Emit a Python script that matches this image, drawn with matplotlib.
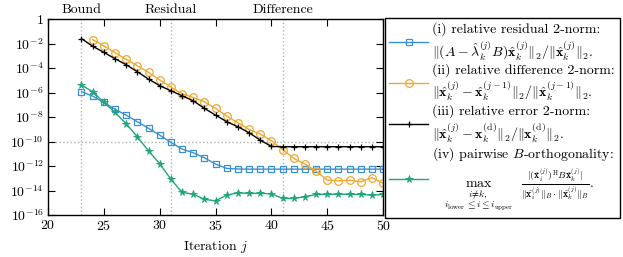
import matplotlib
matplotlib.use("Agg")
import matplotlib.pyplot as plt
import numpy as np
from matplotlib.ticker import FixedLocator, FuncFormatter

plt.rcParams['font.family'] = ['cmr10', 'DejaVu Serif']
plt.rcParams['mathtext.fontset'] = 'cm'
plt.rcParams['axes.formatter.use_mathtext'] = True
plt.rcParams['axes.unicode_minus'] = False

# ---- data (log10 values) ----
it_res = list(range(23, 51))
log_res = [-5.93, -6.29, -6.80, -7.37, -7.84, -8.38, -8.92, -9.47, -10.07, -10.61,
           -10.91, -11.32, -11.84, -12.19, -12.24, -12.25, -12.25, -12.25, -12.25, -12.25,
           -12.25, -12.25, -12.25, -12.25, -12.25, -12.25, -12.25, -12.25]

it_diff = list(range(24, 51))
log_diff = [-1.68, -2.20, -2.75, -3.29, -3.81, -4.35, -4.98, -5.55, -6.10, -6.40,
            -6.75, -7.29, -7.92, -8.46, -9.01, -9.39, -9.93, -10.65, -11.37, -11.84,
            -12.41, -13.14, -13.20, -13.16, -13.28, -12.95, -13.40]

it_err = list(range(23, 51))
log_err = [-1.60, -2.22, -2.72, -3.24, -3.73, -4.30, -4.90, -5.44, -5.85, -6.26,
           -6.67, -7.29, -7.84, -8.38, -8.79, -9.28, -9.88, -10.40, -10.42, -10.42,
           -10.42, -10.42, -10.42, -10.42, -10.42, -10.42, -10.42, -10.42]

it_orth = list(range(23, 51))
log_orth = [-5.39, -5.93, -6.80, -7.62, -8.55, -9.61, -10.76, -11.81, -13.07, -14.15,
            -14.29, -14.72, -14.83, -14.37, -14.18, -14.23, -14.23, -14.26, -14.64, -14.64,
            -14.50, -14.31, -14.31, -14.29, -14.31, -14.31, -14.37, -14.31]

marks_x = [23, 31, 41]
marks_lbl = ['Bound', 'Residual', 'Difference']
xticks = [20, 25, 30, 35, 40, 45, 50]
yexp = [0, -2, -4, -6, -8, -10, -12, -14, -16]

labels = [
    "(i) relative residual 2-norm:\n"
    r"$\|(A-\hat{\lambda}_k^{(j)}B)\hat{\mathbf{x}}_k^{(j)}\|_2/\|\hat{\mathbf{x}}_k^{(j)}\|_2.$",
    "(ii) relative difference 2-norm:\n"
    r"$\|\hat{\mathbf{x}}_k^{(j)}-\hat{\mathbf{x}}_k^{(j-1)}\|_2/\|\hat{\mathbf{x}}_k^{(j-1)}\|_2.$",
    "(iii) relative error 2-norm:\n"
    r"$\|\hat{\mathbf{x}}_k^{(j)}-\mathbf{x}_k^{(\mathrm{d})}\|_2/\|\mathbf{x}_k^{(\mathrm{d})}\|_2.$",
    "(iv) pairwise $B$-orthogonality:\n"
    r"$\quad\max_{\genfrac{}{}{0}{0}{i\neq k,}{i_{\mathrm{lower}}\leq i\leq i_{\mathrm{upper}}}}\ \ "
    r"\frac{|(\hat{\mathbf{x}}_i^{(j)})^{\mathrm{H}}B\hat{\mathbf{x}}_k^{(j)}|}"
    r"{\|\hat{\mathbf{x}}_i^{(j)}\|_B\cdot\|\hat{\mathbf{x}}_k^{(j)}\|_B}.$",
]

c_blue = '#3a8fd0'
c_orange = '#f0a830'
c_green = '#1fa57a'

fig = plt.figure(figsize=(6.23, 2.57), dpi=100)
ax = fig.add_axes([0.077, 0.163, 0.538, 0.763])

ax.set_yscale('log')
h1, = ax.plot(it_res, 10.0 ** np.array(log_res), color=c_blue, lw=1.0, marker='s',
              ms=4, mfc='none', mew=0.9)
h2, = ax.plot(it_diff, 10.0 ** np.array(log_diff), color=c_orange, lw=1.0, marker='o',
              ms=5.5, mfc='none', mew=0.9)
h3, = ax.plot(it_err, 10.0 ** np.array(log_err), color='black', lw=1.0, marker='+',
              ms=5, mew=0.9)
h4, = ax.plot(it_orth, 10.0 ** np.array(log_orth), color=c_green, lw=1.0, marker='*',
              ms=5.5, mew=0.6)

for xv in marks_x:
    ax.axvline(xv, color='#b0b0b0', ls=':', lw=1.0, zorder=0)
ax.axhline(1e-10, color='#b0b0b0', ls=':', lw=1.0, zorder=0)

ax.set_xlim(20, 50)
ax.set_ylim(1e-16, 1)
ax.xaxis.set_major_locator(FixedLocator(xticks))
ax.yaxis.set_major_locator(FixedLocator([10.0 ** e for e in yexp]))
ax.yaxis.set_minor_locator(FixedLocator([]))
ax.yaxis.set_major_formatter(FuncFormatter(
    lambda v, p: '$1$' if abs(v - 1) < 1e-9 else r'$10^{%d}$' % int(round(np.log10(v)))))
ax.xaxis.set_major_formatter(FuncFormatter(lambda v, p: r'$%d$' % int(v)))
ax.tick_params(direction='in', top=True, right=True, length=5, width=0.8,
               labelsize=10, pad=3)
for s in ax.spines.values():
    s.set_linewidth(1.0)
ax.set_xlabel('Iteration $j$', fontsize=10, labelpad=4)

sec = ax.secondary_xaxis('top')
sec.set_xticks(marks_x)
sec.set_xticklabels(marks_lbl)
sec.tick_params(length=0, labelsize=10, pad=2)
sec.spines['top'].set_visible(False)

leg = fig.legend([h1, h2, h3, h4], labels, loc='upper left',
                 bbox_to_anchor=(0.618, 0.93, 0.377, 0.0), mode='expand',
                 borderaxespad=0.0,
                 fontsize=10, handlelength=2.8, handletextpad=0.3,
                 labelspacing=0.05, borderpad=0.3, fancybox=False,
                 edgecolor='black', framealpha=1)
leg.get_frame().set_linewidth(1.0)

fig.savefig('out.png', dpi=100)
